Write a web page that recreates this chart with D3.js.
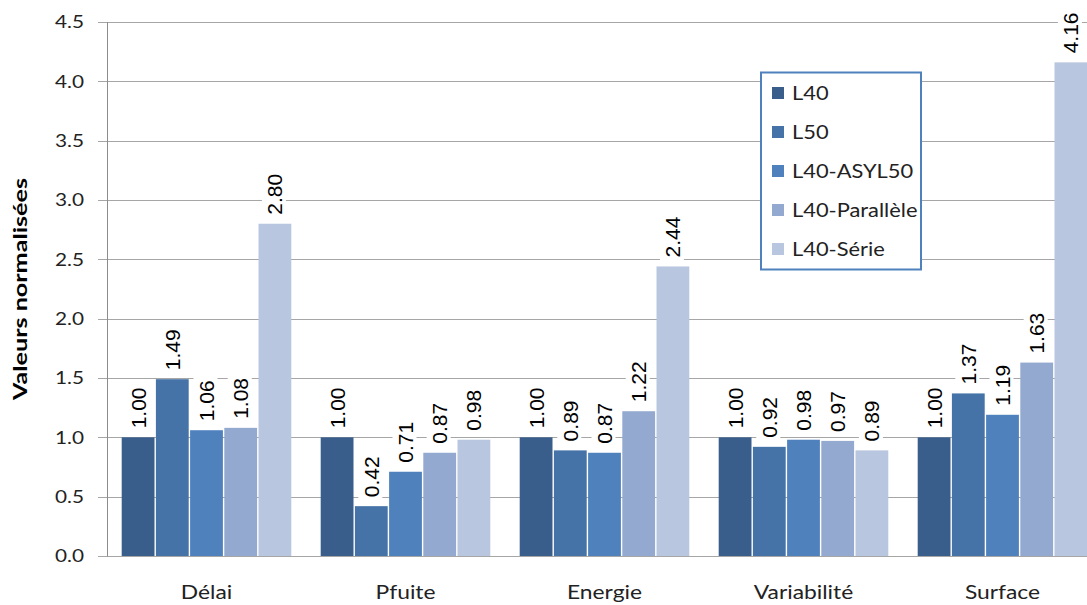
<!DOCTYPE html>
<html><head><meta charset="utf-8">
<script src="https://cdn.jsdelivr.net/npm/d3@7"></script>
<style>body{margin:0;background:#fff}svg{display:block}</style>
</head><body><svg id="c" width="1087" height="605"></svg>
<script>
const categories = ["Délai","Pfuite","Energie","Variabilité","Surface"];
const seriesNames = ["L40","L50","L40-ASYL50","L40-Parallèle","L40-Série"];
const L40 = [1.00,1.00,1.00,1.00,1.00];
const L50 = [1.49,0.42,0.89,0.92,1.37];
const L40ASYL50 = [1.06,0.71,0.87,0.98,1.19];
const L40Parallele = [1.08,0.87,1.22,0.97,1.63];
const L40Serie = [2.80,0.98,2.44,0.89,4.16];
const yTicks = [0,0.5,1,1.5,2,2.5,3,3.5,4,4.5];
const colors = ["#3a5e8c","#4572a7","#4f81bd","#93a9cf","#b9c6df"];
const seriesValues = [L40,L50,L40ASYL50,L40Parallele,L40Serie];

const svg = d3.select("#c");
const x0 = d3.scaleBand().domain(categories).range([107,1102]).padding(0);
const x1 = d3.scaleBand().domain(seriesNames).range([14, x0.bandwidth()-14]).padding(0);
const y = d3.scaleLinear().domain([0,4.5]).range([556,22]);

// gridlines
svg.append("g").selectAll("line").data(yTicks).join("line")
  .attr("x1",98).attr("x2",1102).attr("y1",d=>Math.round(y(d))+0.5).attr("y2",d=>Math.round(y(d))+0.5)
  .attr("stroke","#a6a6a6").attr("stroke-width",1);
// left axis line
svg.append("line").attr("x1",107.5).attr("x2",107.5).attr("y1",y(4.5)).attr("y2",y(0)+0.5)
  .attr("stroke","#8c8c8c");
// tick labels
svg.append("g").selectAll("text").data(yTicks).join("text")
  .attr("x",84).attr("y",d=>y(d)).attr("dy","0.36em").attr("text-anchor","end")
  .attr("font-family","Lato, 'Open Sans', sans-serif").attr("font-size",18).attr("fill","#222")
  .attr("textLength",29).attr("lengthAdjust","spacingAndGlyphs")
  .text(d=>d3.format(".1f")(d));

// y title
svg.append("text").attr("transform","translate(27,289) rotate(-90)")
  .attr("text-anchor","middle").attr("font-family","Lato, 'Open Sans', sans-serif")
  .attr("font-weight","bold").attr("font-size",19).attr("fill","#000")
  .attr("textLength",222).attr("lengthAdjust","spacingAndGlyphs")
  .text("Valeurs normalisées");

// bars
const flat = [];
categories.forEach((c,i)=>seriesNames.forEach((s,j)=>flat.push({c,s,j,v:seriesValues[j][i]})));
svg.append("g").selectAll("rect").data(flat).join("rect")
  .attr("x",d=>x0(d.c)+x1(d.s)+0.7).attr("width",x1.bandwidth()-1.4)
  .attr("y",d=>y(d.v)).attr("height",d=>y(0)-y(d.v))
  .attr("fill",d=>colors[d.j]);

// labels
const lg = svg.append("g");
flat.forEach(d=>{
  const cx = x0(d.c)+x1(d.s)+x1.bandwidth()/2;
  const yEnd = y(d.v)-9;
  const g = lg.append("g").attr("transform",`translate(${cx},${yEnd}) rotate(-90)`);
  g.append("rect").attr("x",-4).attr("y",-13).attr("width",50).attr("height",24).attr("fill","#fff");
  g.append("text").attr("x",0).attr("y",0).attr("dy","0.36em")
    .attr("font-family","'Liberation Sans', Arial, sans-serif").attr("font-size",21).attr("fill","#000")
    .text(d3.format(".2f")(d.v));
});

// category labels
svg.append("g").selectAll("text").data(categories).join("text")
  .attr("transform",d=>`translate(${x0(d)+x0.bandwidth()/2},599) scale(1.2,1)`).attr("text-anchor","middle")
  .attr("font-family","Lato, 'Open Sans', sans-serif").attr("font-size",19).attr("fill","#222")
  .text(d=>d);

// legend
const leg = svg.append("g");
leg.append("rect").attr("x",761).attr("y",72.5).attr("width",160).attr("height",197)
  .attr("fill","#fff").attr("stroke","#4f81bd").attr("stroke-width",2);
seriesNames.forEach((s,i)=>{
  const cy = 93 + i*39;
  leg.append("rect").attr("x",772).attr("y",cy-6).attr("width",12).attr("height",12).attr("fill",colors[i]);
  leg.append("text").attr("transform",`translate(792,${cy}) scale(1.15,1)`).attr("dy","0.36em")
    .attr("font-family","Lato, 'Open Sans', sans-serif").attr("font-size",19).attr("fill","#222")
    .text(s);
});
</script></body></html>
